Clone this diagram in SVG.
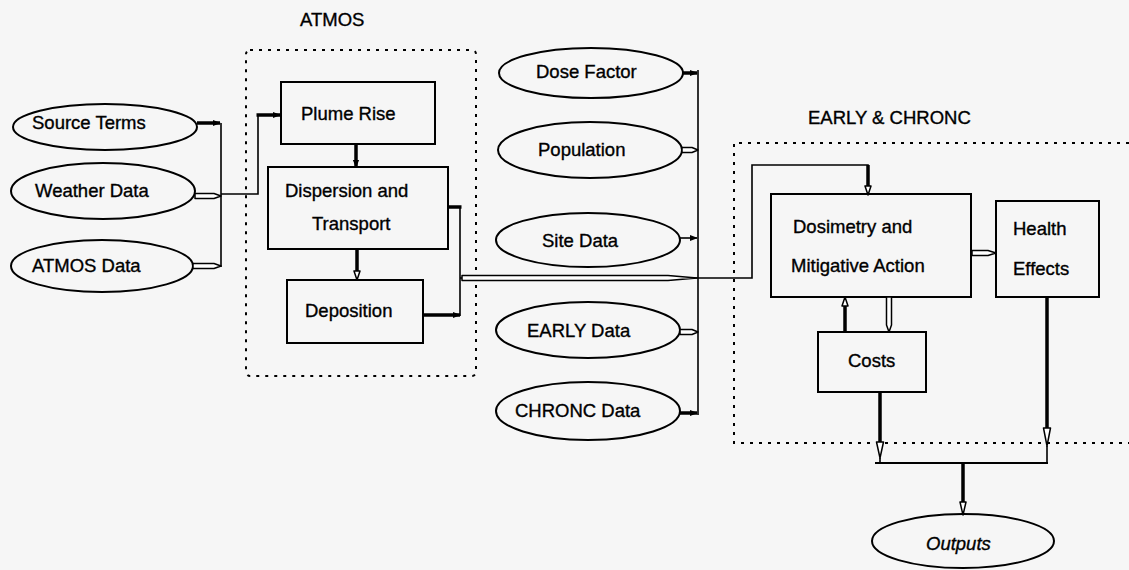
<svg xmlns="http://www.w3.org/2000/svg" width="1129" height="570" viewBox="0 0 1129 570">
<defs>
<marker id="fa" viewBox="0 0 10 10" refX="9" refY="5" markerWidth="8" markerHeight="8" markerUnits="userSpaceOnUse" orient="auto">
<path d="M0,1 L10,5 L0,9 Z" fill="#000"/>
</marker>
</defs>
<style>
text{font-family:"Liberation Sans",Arial,sans-serif;font-size:18.5px;fill:#000;stroke:#000;stroke-width:0.35}
.box{fill:none;stroke:#000;stroke-width:2}
.ell{fill:none;stroke:#000;stroke-width:2}
.dot{fill:none;stroke:#000;stroke-width:2;stroke-dasharray:3 6}
.thin{fill:none;stroke:#000;stroke-width:1.6}
.thick{fill:none;stroke:#000;stroke-width:3.5}
.hol{fill:#fff;stroke:#000;stroke-width:1.5;stroke-linejoin:round}
</style>
<rect width="1129" height="570" fill="#f6f6f6"/>

<g id="group-atmos">
<rect class="dot" x="246" y="50" width="230" height="326" rx="4"/>
<text x="300" y="26">ATMOS</text>
</g>
<g id="group-early-chronc">
<path class="dot" d="M1129,143 H734 V443 H1129"/>
<text x="808" y="124">EARLY &amp; CHRONC</text>
</g>

<g id="source-terms"><ellipse class="ell" cx="105" cy="127" rx="92" ry="23"/><text x="32" y="129">Source Terms</text></g>
<g id="weather-data"><ellipse class="ell" cx="103" cy="191" rx="92" ry="28"/><text x="35" y="197">Weather Data</text></g>
<g id="atmos-data"><ellipse class="ell" cx="102" cy="266" rx="91" ry="26"/><text x="32" y="272">ATMOS Data</text></g>

<g id="plume-rise"><rect class="box" x="281" y="82" width="154" height="62"/><text x="301" y="120">Plume Rise</text></g>
<g id="dispersion"><rect class="box" x="268" y="167" width="180" height="82"/><text x="285" y="197">Dispersion and</text><text x="312" y="230">Transport</text></g>
<g id="deposition"><rect class="box" x="287" y="280" width="136" height="63"/><text x="305" y="317">Deposition</text></g>

<g id="dose-factor"><ellipse class="ell" cx="591" cy="73" rx="92" ry="25"/><text x="536" y="78">Dose Factor</text></g>
<g id="population"><ellipse class="ell" cx="590" cy="150" rx="92" ry="28"/><text x="538" y="156">Population</text></g>
<g id="site-data"><ellipse class="ell" cx="588" cy="240" rx="92" ry="27"/><text x="542" y="247">Site Data</text></g>
<g id="early-data"><ellipse class="ell" cx="588" cy="330" rx="92" ry="28"/><text x="527" y="337">EARLY Data</text></g>
<g id="chronc-data"><ellipse class="ell" cx="588" cy="411" rx="92" ry="29"/><text x="515" y="417">CHRONC Data</text></g>

<g id="dosimetry"><rect class="box" x="771" y="194" width="200" height="103"/><text x="793" y="233">Dosimetry and</text><text x="791" y="272">Mitigative Action</text></g>
<g id="health-effects"><rect class="box" x="996" y="201" width="103" height="96"/><text x="1013" y="235">Health</text><text x="1013" y="275">Effects</text></g>
<g id="costs"><rect class="box" x="818" y="332" width="108" height="60"/><text x="848" y="367">Costs</text></g>
<g id="outputs"><ellipse class="ell" cx="963" cy="541" rx="91" ry="27"/><text x="926" y="550" font-style="italic">Outputs</text></g>

<g id="connectors">
<line class="thin" x1="221" y1="123" x2="221" y2="267"/>
<line class="thick" x1="197" y1="123" x2="220" y2="123" marker-end="url(#fa)"/>
<polygon class="hol" points="195,193.5 214,193.5 221,196 214,198.5 195,198.5"/>
<polygon class="hol" points="193,263.5 214,263.5 221,266 214,268.5 193,268.5"/>
<polyline class="thin" points="221,194 258,194 258,115"/>
<line class="thick" x1="256.5" y1="115" x2="280" y2="115" marker-end="url(#fa)"/>
<line class="thick" x1="356" y1="145" x2="356" y2="167" marker-end="url(#fa)"/>
<line class="thick" x1="357" y1="250" x2="357" y2="271"/>
<polygon class="hol" points="354,271 360,271 357,280"/>
<line class="thick" x1="448" y1="207" x2="461.5" y2="207"/>
<line class="thin" x1="460" y1="207" x2="460" y2="316"/>
<line class="thick" x1="423" y1="315" x2="460" y2="315" marker-end="url(#fa)"/>
<polyline class="thin" points="460,278 752,278 752,165 868,165 868,186"/>
<polygon class="hol" points="462,275.5 668,275.5 697,278 668,280.5 462,280.5"/>
<line class="thick" x1="868" y1="165" x2="868" y2="186"/>
<polygon class="hol" points="865,186 871,186 868,195"/>
<line class="thin" x1="698" y1="70" x2="698" y2="415"/>
<line class="thick" x1="683" y1="73" x2="697" y2="73" marker-end="url(#fa)"/>
<polygon class="hol" points="682,147.5 692,147.5 698,150 692,152.5 682,152.5"/>
<line class="thin" x1="680" y1="238" x2="697" y2="238" marker-end="url(#fa)"/>
<polygon class="hol" points="680,329.5 692,329.5 698,332 692,334.5 680,334.5"/>
<line class="thick" x1="679" y1="413" x2="697" y2="413" marker-end="url(#fa)"/>
<polygon class="hol" points="972,250.5 988,250.5 996,253 988,255.5 972,255.5"/>
<line class="thick" x1="845" y1="332" x2="845" y2="306"/>
<polygon class="hol" points="842,306 848,306 845,297"/>
<polygon class="hol" points="886.5,297 891.5,297 891.5,325 889,332 886.5,325"/>
<line class="thick" x1="880" y1="392" x2="880" y2="442"/>
<polygon class="hol" points="876.5,442 883.5,442 880,458"/>
<line class="thin" x1="880" y1="458" x2="880" y2="463"/>
<line class="thick" x1="1047" y1="297" x2="1047" y2="428"/>
<polygon class="hol" points="1043.5,428 1050.5,428 1047,446"/>
<line class="thin" x1="1047" y1="446" x2="1047" y2="463"/>
<line class="box" x1="875" y1="463" x2="1048" y2="463"/>
<line class="thick" x1="963" y1="463" x2="963" y2="502"/>
<polygon class="hol" points="960,502 966,502 963,515"/>
</g>
</svg>
